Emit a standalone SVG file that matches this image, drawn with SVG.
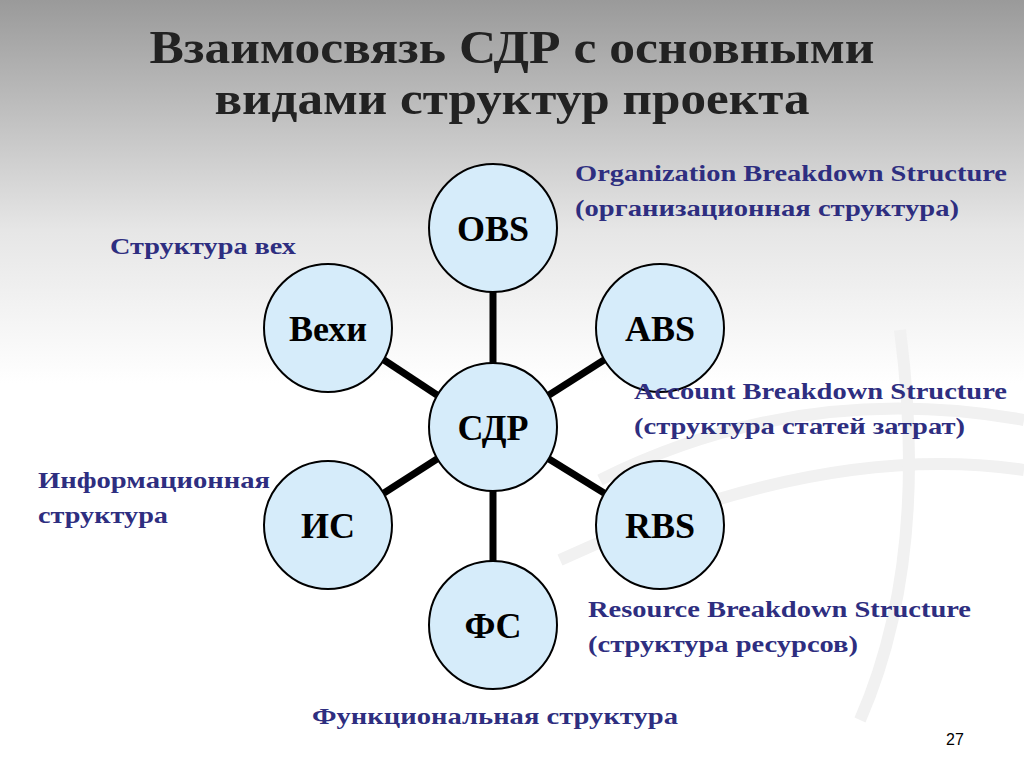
<svg xmlns="http://www.w3.org/2000/svg" width="1024" height="767" viewBox="0 0 1024 767">
<defs>
<linearGradient id="bg" x1="0" y1="0" x2="0" y2="1">
<stop offset="0" stop-color="#9a9a9a"/>
<stop offset="0.3" stop-color="#e6e6e6"/>
<stop offset="0.5" stop-color="#ffffff"/>
<stop offset="1" stop-color="#ffffff"/>
</linearGradient>
<style>
.n{fill:#d6ecfa;stroke:#000;stroke-width:2}
.t{font-family:"Liberation Serif",serif;font-weight:bold;font-size:36px;fill:#000;text-anchor:middle}
.l{font-family:"Liberation Serif",serif;font-weight:bold;font-size:24px;fill:#2e2e80;lengthAdjust:spacingAndGlyphs}
.c{stroke:#000;stroke-width:7}
</style>
</defs>
<rect width="1024" height="767" fill="url(#bg)"/>
<g fill="none" stroke="#f1f1f1" stroke-width="12">
<path d="M600 480 Q800 380 1024 420"/>
<path d="M560 560 Q820 440 1024 470"/>
<path d="M860 720 Q930 560 900 330"/>
</g>
<g font-family="Liberation Serif,serif" font-weight="bold" font-size="46" fill="#222" text-anchor="middle">
<text x="512" y="63" textLength="725" lengthAdjust="spacingAndGlyphs">Взаимосвязь СДР с основными</text>
<text x="512" y="114" textLength="595" lengthAdjust="spacingAndGlyphs">видами структур проекта</text>
</g>
<g id="connectors">
<line class="c" x1="493" y1="292" x2="493" y2="363"/>
<line class="c" x1="384" y1="360" x2="437" y2="395"/>
<line class="c" x1="604" y1="360" x2="549" y2="395"/>
<line class="c" x1="384" y1="493" x2="437" y2="459"/>
<line class="c" x1="604" y1="493" x2="549" y2="459"/>
<line class="c" x1="493" y1="491" x2="493" y2="561"/>
</g>
<g id="obs"><circle class="n" cx="493" cy="228" r="64"/><text class="t" x="493" y="241">OBS</text></g>
<g id="vehi"><circle class="n" cx="328" cy="328" r="64"/><text class="t" x="328" y="341">Вехи</text></g>
<g id="abs"><circle class="n" cx="660" cy="328" r="64"/><text class="t" x="660" y="341">ABS</text></g>
<g id="sdr"><circle class="n" cx="493" cy="427" r="64"/><text class="t" x="493" y="440">СДР</text></g>
<g id="is"><circle class="n" cx="328" cy="525" r="64"/><text class="t" x="328" y="538">ИС</text></g>
<g id="rbs"><circle class="n" cx="660" cy="525" r="64"/><text class="t" x="660" y="538">RBS</text></g>
<g id="fs"><circle class="n" cx="493" cy="625" r="64"/><text class="t" x="493" y="638">ФС</text></g>
<g id="labels">
<text class="l" x="575" y="181" textLength="432" lengthAdjust="spacingAndGlyphs">Organization Breakdown Structure</text>
<text class="l" x="575" y="216" textLength="384" lengthAdjust="spacingAndGlyphs">(организационная структура)</text>
<text class="l" x="110" y="254" textLength="186" lengthAdjust="spacingAndGlyphs">Структура вех</text>
<text class="l" x="634" y="399" textLength="373" lengthAdjust="spacingAndGlyphs">Account Breakdown Structure</text>
<text class="l" x="634" y="434" textLength="331" lengthAdjust="spacingAndGlyphs">(структура статей затрат)</text>
<text class="l" x="38" y="488" textLength="232" lengthAdjust="spacingAndGlyphs">Информационная</text>
<text class="l" x="38" y="523" textLength="130" lengthAdjust="spacingAndGlyphs">структура</text>
<text class="l" x="588" y="617" textLength="383" lengthAdjust="spacingAndGlyphs">Resource Breakdown Structure</text>
<text class="l" x="588" y="652" textLength="270" lengthAdjust="spacingAndGlyphs">(структура ресурсов)</text>
<text class="l" x="312" y="724" textLength="366" lengthAdjust="spacingAndGlyphs">Функциональная структура</text>
</g>
<text x="955" y="745" font-family="Liberation Sans,sans-serif" font-size="16" text-anchor="middle" fill="#000">27</text>
</svg>
